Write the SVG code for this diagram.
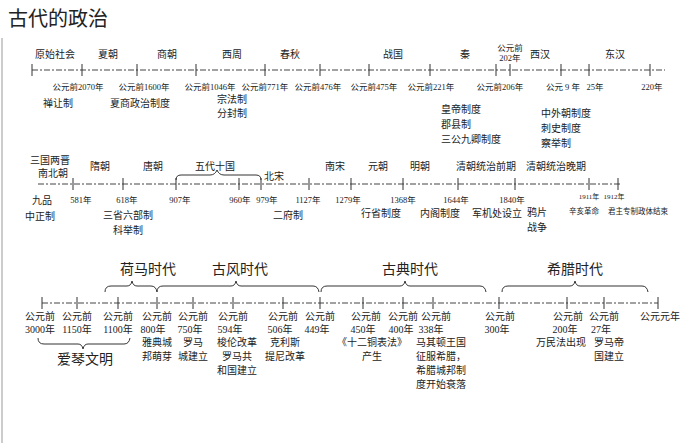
<svg xmlns="http://www.w3.org/2000/svg" width="690" height="443" viewBox="0 0 690 443">
<style>
text{font-family:"Liberation Serif","Noto Sans CJK SC",serif;fill:#222;font-size:10px;text-anchor:middle}
.e{font-size:14px}
.s{font-size:8.5px}
.l{text-anchor:start}
.ax{stroke:#444;stroke-width:1;stroke-dasharray:6,2,2,2;fill:none}
.tk{stroke:#333;stroke-width:1}
.br{stroke:#333;stroke-width:1;fill:none}
</style>
<rect width="690" height="443" fill="#fff"/>
<line x1="2" y1="38" x2="2" y2="443" stroke="#999"/>
<text x="8" y="26" class="l" style="font-size:20px;font-family:'Noto Sans CJK SC',sans-serif">古代的政治</text>
<g id="connectors">
<line class="ax" x1="32" y1="70" x2="665" y2="70"/>
<line class="ax" x1="38" y1="184" x2="622" y2="184"/>
<line class="ax" x1="42" y1="303" x2="658" y2="303"/>
<path class="tk" d="M32 64v12M82 64v12M137 64v12M196 64v12M265 64v12M320 64v12M369 64v12M430 64v12M496 64v12M510 64v12M561 64v12M589 64v12M650 64v12"/>
<path class="tk" d="M73 178v12M123 178v12M176 178v12M239 178v12M261 178v12M309 178v12M351 178v12M403 178v12M458 178v12M515 178v12M589 178v12M618 178v12"/>
<path class="tk" d="M42 297v12M77 297v12M118 297v12M157 297v12M193 297v12M233 297v12M283 297v12M320 297v12M363 297v12M403 297v12M433 297v12M499 297v12M567 297v12M604 297v12M658 297v12"/>
<path class="br" d="M176 180q0-5 5-5h29q5 0 7-5q2 5 7 5h32q5 0 5 5"/>
<path class="br" d="M105 292q0-6 6-6h16q4 0 5-5q1 5 5 5h14q5 0 6 6"/>
<path class="br" d="M157 292q0-6 6-6h68q4 0 5-5q1 5 5 5h72q5 0 6 6"/>
<path class="br" d="M321 292q0-6 6-6h73q4 0 5-5q1 5 5 5h70q5 0 6 6"/>
<path class="br" d="M502 292q0-6 6-6h62q4 0 5-5q1 5 5 5h62q5 0 6 6"/>
<path class="br" d="M38 338q0 6 6 6h34q4 0 5 5q1-5 5-5h36q5 0 6-6"/>
</g>
<g id="row1">
<text x="55" y="58">原始社会</text><text x="108" y="58">夏朝</text><text x="167" y="58">商朝</text><text x="232" y="58">西周</text><text x="290" y="58">春秋</text><text x="393" y="58">战国</text><text x="465" y="58">秦</text>
<text x="510" y="51" class="s">公元前</text><text x="510" y="61" class="s">202年</text><text x="540" y="58">西汉</text><text x="615" y="58">东汉</text>
<text x="78" y="90" class="s">公元前2070年</text><text x="144" y="90" class="s">公元前1600年</text><text x="210" y="90" class="s">公元前1046年</text><text x="265" y="90" class="s">公元前771年</text><text x="318" y="90" class="s">公元前476年</text><text x="374" y="90" class="s">公元前475年</text><text x="431" y="90" class="s">公元前221年</text><text x="500" y="90" class="s">公元前206年</text><text x="563" y="90" class="s">公元 9 年</text><text x="595" y="90" class="s">25年</text><text x="652" y="90" class="s">220年</text>
<text x="58" y="107">禅让制</text><text x="140" y="107">夏商政治制度</text><text x="232" y="103">宗法制</text><text x="232" y="117">分封制</text>
<text x="441" y="113" class="l">皇帝制度</text><text x="441" y="128" class="l">郡县制</text><text x="441" y="143" class="l">三公九卿制度</text>
<text x="541" y="117" class="l">中外朝制度</text><text x="541" y="132" class="l">刺史制度</text><text x="541" y="147" class="l">察举制</text>
</g>
<g id="row2">
<text x="50" y="164">三国两晋</text><text x="53" y="177">南北朝</text><text x="100" y="170">隋朝</text><text x="153" y="170">唐朝</text><text x="215" y="170">五代十国</text><text x="274" y="180">北宋</text><text x="335" y="170">南宋</text><text x="378" y="170">元朝</text><text x="420" y="170">明朝</text><text x="486" y="170">清朝统治前期</text><text x="556" y="170">清朝统治晚期</text>
<text x="42" y="204">九品</text><text x="40" y="220">中正制</text>
<text x="81" y="203" class="s">581年</text><text x="127" y="203" class="s">618年</text><text x="180" y="203" class="s">907年</text><text x="240" y="203" class="s">960年</text><text x="267" y="203" class="s">979年</text><text x="308" y="203" class="s">1127年</text><text x="348" y="203" class="s">1279年</text><text x="403" y="203" class="s">1368年</text><text x="456" y="203" class="s">1644年</text><text x="512" y="203" class="s">1840年</text><text x="589" y="199" style="font-size:7px">1911年</text><text x="614" y="199" style="font-size:7px">1912年</text>
<text x="128" y="219">三省六部制</text><text x="128" y="234">科举制</text><text x="288" y="219">二府制</text><text x="381" y="217">行省制度</text><text x="440" y="217">内阁制度</text><text x="497" y="217">军机处设立</text><text x="537" y="216">鸦片</text><text x="537" y="231">战争</text>
<text x="584" y="214" style="font-size:7.5px">辛亥革命</text><text x="638" y="214" style="font-size:7.5px">君主专制政体结束</text>
</g>
<g id="row3">
<text x="148" y="274" class="e">荷马时代</text><text x="240" y="274" class="e">古风时代</text><text x="410" y="274" class="e">古典时代</text><text x="575" y="274" class="e">希腊时代</text><text x="85" y="364" class="e">爱琴文明</text>
<text x="40" y="320">公元前</text><text x="40" y="333">3000年</text><text x="77" y="320">公元前</text><text x="77" y="333">1150年</text><text x="118" y="320">公元前</text><text x="118" y="333">1100年</text><text x="157" y="320">公元前</text><text x="153" y="333">800年</text><text x="193" y="320">公元前</text><text x="190" y="333">750年</text><text x="233" y="320">公元前</text><text x="230" y="333">594年</text><text x="283" y="320">公元前</text><text x="280" y="333">506年</text><text x="320" y="320">公元前</text><text x="317" y="333">449年</text><text x="366" y="320">公元前</text><text x="363" y="333">450年</text><text x="403" y="320">公元前</text><text x="401" y="333">400年</text><text x="436" y="320">公元前</text><text x="431" y="333">338年</text><text x="500" y="320">公元前</text><text x="497" y="333">300年</text><text x="568" y="320">公元前</text><text x="565" y="333">200年</text><text x="604" y="320">公元前</text><text x="601" y="333">27年</text><text x="660" y="320">公元元年</text>
<text x="157" y="346">雅典城</text><text x="157" y="360">邦萌芽</text><text x="193" y="346">罗马</text><text x="193" y="360">城建立</text><text x="237" y="346">梭伦改革</text><text x="237" y="360">罗马共</text><text x="237" y="374">和国建立</text><text x="285" y="346">克利斯</text><text x="285" y="360">提尼改革</text>
<text x="372" y="346">《十二铜表法》</text><text x="372" y="360">产生</text><text x="441" y="346">马其顿王国</text><text x="441" y="360">征服希腊，</text><text x="441" y="374">希腊城邦制</text><text x="441" y="388">度开始衰落</text>
<text x="561" y="346">万民法出现</text><text x="609" y="346">罗马帝</text><text x="609" y="360">国建立</text>
</g>
</svg>
